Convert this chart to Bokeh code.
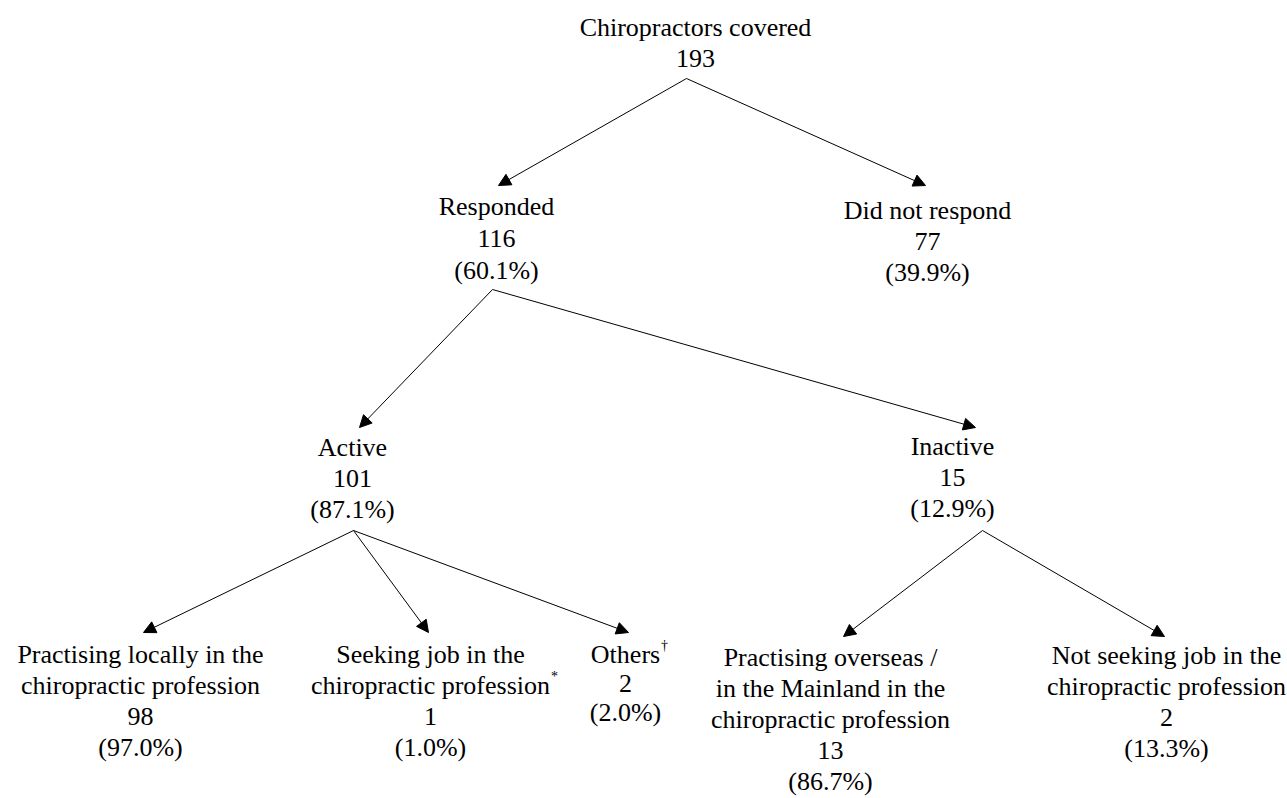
from bokeh.plotting import figure
from bokeh.models import Range1d, Arrow, NormalHead, ColumnDataSource
from bokeh.embed import file_html
from bokeh.resources import INLINE
from bokeh.core.properties import value

# ---------------- data ----------------
node_labels = [
    ["Chiropractors covered"],
    ["Responded"],
    ["Did not respond"],
    ["Active"],
    ["Inactive"],
    ["Practising locally in the", "chiropractic profession"],
    ["Seeking job in the", "chiropractic profession"],
    ["Others"],
    ["Practising overseas /", "in the Mainland in the", "chiropractic profession"],
    ["Not seeking job in the", "chiropractic profession"],
]
node_counts = [193, 116, 77, 101, 15, 98, 1, 2, 13, 2]
node_pcts = [None, 60.1, 39.9, 87.1, 12.9, 97.0, 1.0, 2.0, 86.7, 13.3]
node_marks = ["", "", "", "", "", "", "*", "\u2020", "", ""]
node_parent = [None, 0, 0, 1, 1, 3, 3, 3, 4, 4]

# ---------------- layout (page pixels) ----------------
node_x = [695, 496, 927, 352, 952, 140, 430, 625, 830, 1166]
node_top = [27, 206, 210, 447, 446, 654, 654, 654, 657, 655]
node_gap = [31, 32, 31, 31, 31, 31, 31, 29, 31, 31]
apex = {0: (686, 78), 1: (492, 289), 3: (353, 530), 4: (982, 530)}
tips = {1: (498, 185), 2: (925, 185), 3: (359, 427), 4: (975, 427),
        5: (143, 632), 6: (428, 632), 7: (628, 632), 8: (843, 636), 9: (1164, 636)}
line_widths = {"chiropractic profession": 239, "Others": 69}

FONT = "Liberation Serif"
FS = "26px"

W, H = 1287, 798
p = figure(width=W, height=H, output_backend="svg", toolbar_location=None,
           x_range=Range1d(0, W), y_range=Range1d(H, 0),
           min_border=0, outline_line_color=None)
p.axis.visible = False
p.grid.visible = False

xs, ys, ts = [], [], []
sx, sy, st = [], [], []
for i, lines in enumerate(node_labels):
    rows = list(lines) + [str(node_counts[i])]
    if node_pcts[i] is not None:
        rows.append("(%.1f%%)" % node_pcts[i])
    for k, r in enumerate(rows):
        xs.append(node_x[i])
        ys.append(node_top[i] + k * node_gap[i])
        ts.append(r)
    if node_marks[i]:
        last = lines[-1]
        sx.append(node_x[i] + line_widths.get(last, 100) / 2 + 1)
        sy.append(node_top[i] + (len(lines) - 1) * node_gap[i] - 9)
        st.append(node_marks[i])

p.text(x="x", y="y", text="text", source=ColumnDataSource(dict(x=xs, y=ys, text=ts)),
       text_align="center", text_baseline="middle",
       text_font=value(FONT), text_font_size=FS, text_color="black")

p.text(x="x", y="y", text="text", source=ColumnDataSource(dict(x=sx, y=sy, text=st)),
       text_align="left", text_baseline="middle",
       text_font=value(FONT), text_font_size="14px", text_color="black")

for child, par in enumerate(node_parent):
    if par is None:
        continue
    x0, y0 = apex[par]
    x1, y1 = tips[child]
    p.add_layout(Arrow(x_start=x0, y_start=y0, x_end=x1, y_end=y1,
                       line_color="black", line_width=1,
                       end=NormalHead(size=12, fill_color="black", line_color="black", line_width=1)))

open("out.html", "w").write(file_html(p, INLINE))
